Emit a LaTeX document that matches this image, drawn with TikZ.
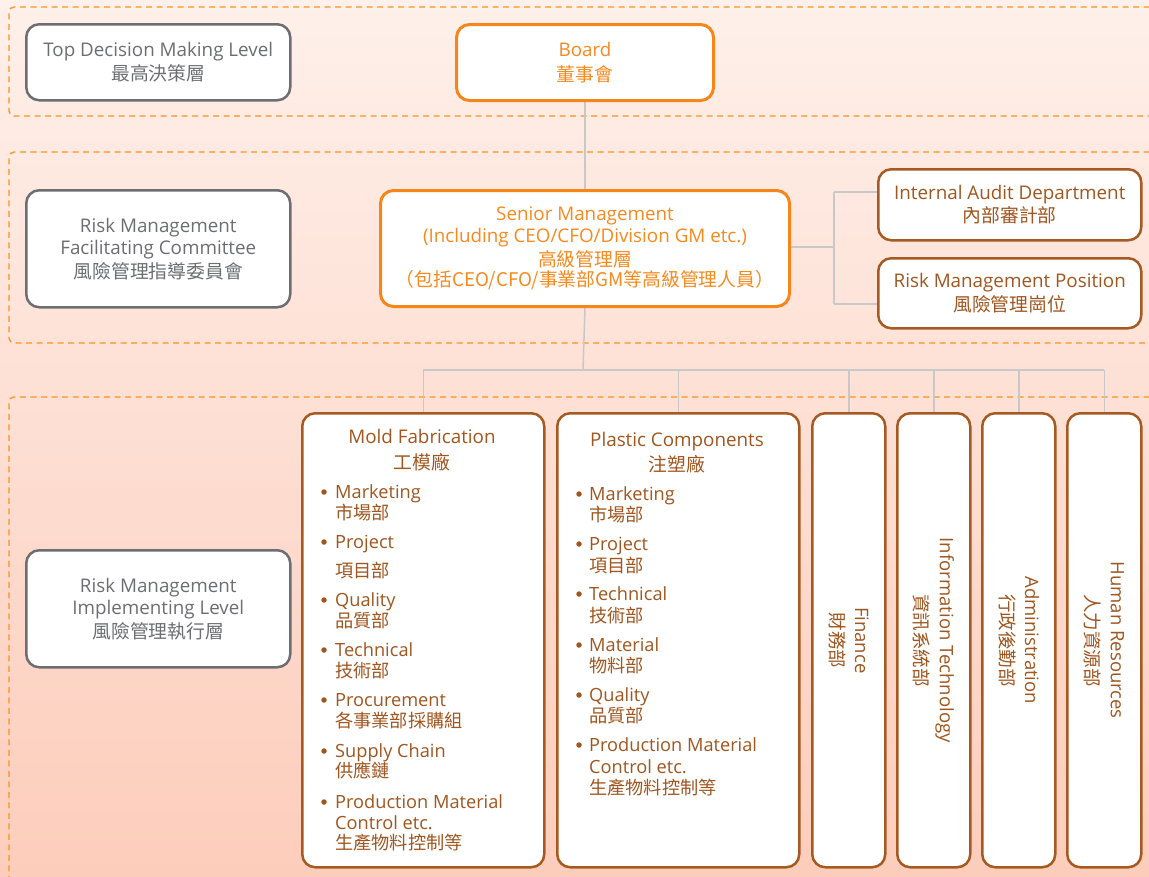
\documentclass[tikz,border=0pt]{standalone}
\usepackage{fontspec}
\setmainfont{Open Sans}
\newfontfamily\cjk{Noto Sans CJK TC}
\usetikzlibrary{backgrounds}
\definecolor{dashor}{HTML}{F7941D}
\definecolor{orangeB}{HTML}{F7861A}
\definecolor{orangeT}{HTML}{F58A1F}
\definecolor{brownB}{HTML}{A65A22}
\definecolor{brownT}{HTML}{A0561F}
\definecolor{grayB}{HTML}{6D6E71}
\definecolor{grayT}{HTML}{6D6E71}
\definecolor{conn}{HTML}{C8C8C8}
\definecolor{bgtop}{HTML}{FEF0EA}
\definecolor{bgbot}{HTML}{FDCDBB}
\begin{document}
\begin{tikzpicture}[x=1pt,y=-1pt,
  basebox/.style={fill=white, rounded corners=13pt, align=center, inner sep=0pt, anchor=north west, font=\fontsize{18.8}{22.5}\selectfont},
  lvl/.style={basebox, draw=grayB, text=grayT, line width=2.5pt},
  orbox/.style={basebox, draw=orangeB, text=orangeT, line width=3pt},
  brbox/.style={basebox, draw=brownB, text=brownT, line width=2.5pt},
  vtext/.style={rotate=-90, text=brownT, align=center, inner sep=0pt, font=\fontsize{18.5}{25}\selectfont},
  lst/.style={anchor=base west, text=brownT, inner sep=0pt, font=\fontsize{18.2}{21}\selectfont},
  ttl/.style={anchor=base, text=brownT, inner sep=0pt, font=\fontsize{18.8}{21}\selectfont},
  region/.style={draw=dashor, line width=1.3pt, dash pattern=on 6pt off 4.5pt, rounded corners=5pt},
  connector/.style={draw=conn, line width=1.5pt},
  bul/.style={circle, fill=brownT, inner sep=0pt, minimum size=5.5pt}]
\useasboundingbox (0,0) rectangle (1149,876);

% level nodes
\node[lvl, minimum width=264pt, minimum height=76pt] (topL) at (25,23) {Top Decision Making Level\\[2pt]{\cjk 最高決策層}};
\node[orbox, minimum width=257pt, minimum height=76pt] (board) at (455,23) {Board\\[2pt]{\cjk 董事會}};
\node[lvl, minimum width=264pt, minimum height=117pt] (rmfc) at (25,189) {Risk Management\\Facilitating Committee\\[1pt]{\cjk 風險管理指導委員會}};
\node[orbox, minimum width=409pt, minimum height=116pt] (senior) at (379,189) {Senior Management\\(Including CEO/CFO/Division GM etc.)\\[1pt]{\cjk 高級管理層}\\[-2pt]{\cjk （包括CEO/CFO/事業部GM等高級管理人員）}};
\node[brbox, minimum width=263pt, minimum height=71pt] (ia) at (877,168) {Internal Audit Department\\[1pt]{\cjk 內部審計部}};
\node[brbox, minimum width=263pt, minimum height=70pt] (rmp) at (877,257) {Risk Management Position\\[1pt]{\cjk 風險管理崗位}};
\node[lvl, minimum width=264pt, minimum height=117pt] (rmil) at (25,549) {Risk Management\\Implementing Level\\[1pt]{\cjk 風險管理執行層}};

% implementing boxes
\node[brbox, minimum width=242pt, minimum height=454pt] (mold) at (301,412) {};
\node[brbox, minimum width=242pt, minimum height=454pt] (plastic) at (556,412) {};
\node[brbox, minimum width=73pt, minimum height=454pt] (fin) at (811,412) {};
\node[brbox, minimum width=73pt, minimum height=454pt] (it) at (896,412) {};
\node[brbox, minimum width=73pt, minimum height=454pt] (adm) at (981,412) {};
\node[brbox, minimum width=74pt, minimum height=454pt] (hr) at (1066,412) {};

\node[vtext] (finT) at (fin.center) {Finance\\{\cjk 財務部}};
\node[vtext] (itT) at (it.center) {Information Technology\\{\cjk 資訊系統部}};
\node[vtext] (admT) at (adm.center) {Administration\\{\cjk 行政後勤部}};
\node[vtext] (hrT) at (hr.center) {Human Resources\\{\cjk 人力資源部}};

% Mold Fabrication list
\node[ttl] (moldT1) at (422,443) {Mold Fabrication};
\node[ttl] (moldT2) at (422,469) {\cjk 工模廠};
\foreach \n/\y/\t in {m1/498/Marketing, m2/548/Project, m3/606/Quality, m4/656/Technical, m5/706/Procurement, m6/757/Supply Chain, m7/808/Production Material}{
  \node[bul] (\n b) at (324,\y-6) {};
  \node[lst] (\n) at (335,\y) {\t};
}
\node[lst] (m7b2) at (335,829) {Control etc.};
\foreach \n/\y/\t in {mc1/519/市場部, mc2/577/項目部, mc3/627/品質部, mc4/677/技術部, mc5/727/各事業部採購組, mc6/777/供應鏈, mc7/849/生產物料控制等}{
  \node[lst] (\n) at (335,\y) {\cjk \t};
}

% Plastic Components list
\node[ttl] (plT1) at (677,446) {Plastic Components};
\node[ttl] (plT2) at (677,471) {\cjk 注塑廠};
\foreach \n/\y/\t in {p1/500/Marketing, p2/550/Project, p3/600/Technical, p4/651/Material, p5/701/Quality, p6/751/Production Material}{
  \node[bul] (\n b) at (579,\y-6) {};
  \node[lst] (\n) at (589,\y) {\t};
}
\node[lst] (p6b2) at (589,773) {Control etc.};
\foreach \n/\y/\t in {pc1/521/市場部, pc2/572/項目部, pc3/622/技術部, pc4/672/物料部, pc5/722/品質部, pc6/794/生產物料控制等}{
  \node[lst] (\n) at (589,\y) {\cjk \t};
}

\begin{scope}[on background layer]
  \shade[top color=bgtop, bottom color=bgbot] (0,0) rectangle (1149,876);
  \draw[region] (1160,7) -- (9,7) -- (9,116) -- (1160,116);
  \draw[region] (1160,152) -- (9,152) -- (9,343) -- (1160,343);
  \draw[region] (1160,397) -- (9,397) -- (9,890);
  % connectors
  \draw[connector] (board.south) -- (senior.north);
  \coordinate (rj) at (834,247);
  \coordinate (rtop) at (834,192);
  \coordinate (rbot) at (834,304);
  \draw[connector] (senior.east |- rj) -- (rj);
  \draw[connector] (rtop) -- (rbot);
  \draw[connector] (rtop) -- (rtop -| ia.west);
  \draw[connector] (rbot) -- (rbot -| rmp.west);
  \coordinate (bus) at (583,370);
  \draw[connector] (senior.south) -- (bus);
  \draw[connector] (mold.north |- bus) -- (hr.north |- bus);
  \foreach \n in {mold,plastic,fin,it,adm,hr}{
    \draw[connector] (\n.north) -- (\n.north |- bus);
  }
\end{scope}
\end{tikzpicture}
\end{document}
